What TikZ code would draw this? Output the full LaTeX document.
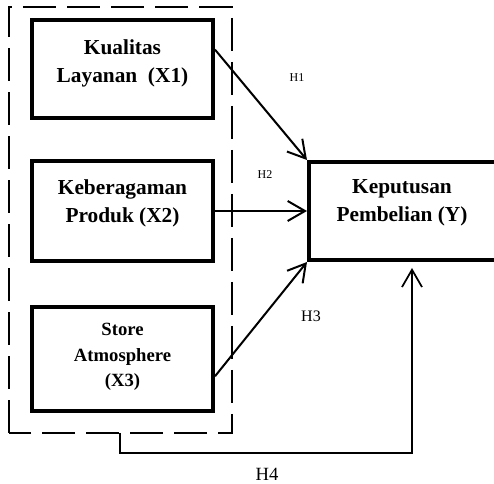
\documentclass[tikz,border=0pt]{standalone}
\usepackage{fontspec}
\setmainfont{Liberation Serif}
\usetikzlibrary{arrows.meta,calc}
\begin{document}
\begin{tikzpicture}[x=0.75pt,y=-0.75pt,
  varbox/.style={draw=black,line width=3pt,inner sep=0pt},
  boxtext/.style={font=\fontsize{16}{21}\selectfont\bfseries,align=center,inner sep=0pt},
  hlabel/.style={font=\fontsize{9}{11}\selectfont,inner sep=0pt},
  path arrow/.style={line width=1.5pt,-{Straight Barb[length=13pt,width=15pt,line cap=butt]}},
  groupbox/.style={line width=1.1pt,dash pattern=on 25pt off 8pt}]
\useasboundingbox (0,0) rectangle (494,484);
\clip (0,0) rectangle (494,484);
% boxes
\node[varbox,minimum width=135.75pt,minimum height=73.5pt] (x1) at (122.5,69) {};
\node[varbox,minimum width=135.75pt,minimum height=75pt] (x2) at (122.5,211) {};
\node[varbox,minimum width=135.75pt,minimum height=78pt] (x3) at (122.5,359) {};
\node[varbox,minimum width=150pt,minimum height=73.5pt,anchor=west] (y) at (307,211) {};
% texts
\node[boxtext] (x1t) at (122.5,63) {Kualitas\\Layanan\ \ (X1)};
\node[boxtext] (x2t) at (122.5,203) {Keberagaman\\Produk (X2)};
\node[boxtext,font=\fontsize{14}{19}\selectfont\bfseries] (x3t) at (122.5,357) {Store\\Atmosphere\\(X3)};
\node[boxtext] (yt) at (402,203) {Keputusan\\Pembelian (Y)};
% dashed group
\coordinate (gtl) at (9,7);
\coordinate (gtr) at (232,7);
\coordinate (gbr) at (232,433);
\coordinate (gbl) at (9,433);
\coordinate (gout) at (120,433);
\draw[groupbox] (gbl) -- (gtl) -- (gtr) -- (gbr) -- cycle;
% arrows
\draw[path arrow] ($(x1.north east)!0.31!(x1.south east)$) -- (y.north west);
\draw[path arrow] (x2.east) -- (y.west);
\draw[path arrow] ($(x3.north east)!0.66!(x3.south east)$) -- (y.south west);
\coordinate (h4a) at (120,453);
\coordinate (h4b) at (412,453);
\coordinate (h4t) at (412,268);
\draw[line width=1.3pt,-{Straight Barb[length=13pt,width=15pt]}] (gout) -- (h4a) -- (h4b) -- (h4t);
% labels
\node[hlabel] (h1) at (297,78) {H1};
\node[hlabel] (h2) at (265,175) {H2};
\node[hlabel,font=\fontsize{12}{14}\selectfont] (h3) at (311,316) {H3};
\node[hlabel,font=\fontsize{14}{16}\selectfont] (h4) at (267,474) {H4};
\end{tikzpicture}
\end{document}
